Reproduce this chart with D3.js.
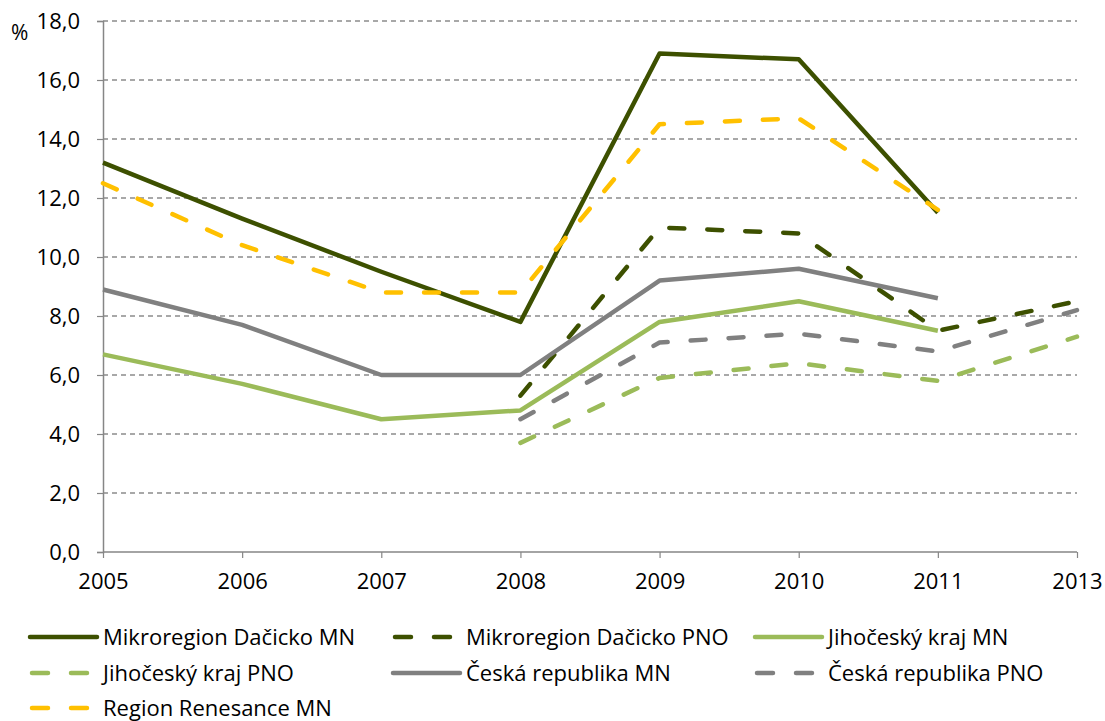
<!DOCTYPE html>
<html>
<head>
<meta charset="utf-8">
<script src="https://cdn.jsdelivr.net/npm/d3@7"></script>
<style>
  html, body { margin: 0; padding: 0; background: #fff; }
  text { font-family: "Open Sans", Lato, sans-serif; fill: #000; }
</style>
</head>
<body>
<svg id="chart" width="1105" height="721"></svg>
<script>
const years = ["2005", "2006", "2007", "2008", "2009", "2010", "2011", "2013"];
const yTicks = [0, 2, 4, 6, 8, 10, 12, 14, 16, 18];

const dacickoMN   = [13.2, 11.3, 9.5, 7.8, 16.9, 16.7, 11.5, null];
const dacickoPNO  = [null, null, null, 5.3, 11.0, 10.8, 7.5, 8.5];
const jihoMN      = [6.7, 5.7, 4.5, 4.8, 7.8, 8.5, 7.5, null];
const jihoPNO     = [null, null, null, 3.7, 5.9, 6.4, 5.8, 7.3];
const crMN        = [8.9, 7.7, 6.0, 6.0, 9.2, 9.6, 8.6, null];
const crPNO       = [null, null, null, 4.5, 7.1, 7.4, 6.8, 8.2];
const renesanceMN = [12.5, 10.4, 8.8, 8.8, 14.5, 14.7, 11.6, null];

const seriesNames = ["Mikroregion Dačicko MN", "Mikroregion Dačicko PNO", "Jihočeský kraj MN",
  "Jihočeský kraj PNO", "Česká republika MN", "Česká republika PNO", "Region Renesance MN"];
const seriesValues = [dacickoMN, dacickoPNO, jihoMN, jihoPNO, crMN, crPNO, renesanceMN];
const seriesColors = ["#3d5000", "#3d5000", "#9bbb59", "#9bbb59", "#808080", "#808080", "#ffc000"];
const seriesDashed = [false, true, false, true, false, true, true];

const svg = d3.select("#chart");
const plotLeft = 103, plotRight = 1077, plotTop = 21, plotBottom = 552;
const fontSize = 22;

const x = d3.scalePoint().domain(years).range([plotLeft, plotRight]);
const y = d3.scaleLinear().domain([0, 18]).range([plotBottom, plotTop]);
const fmt = v => d3.format(".1f")(v).replace(".", ",");

// gridlines
svg.append("g").selectAll("line").data(yTicks.filter(d => d > 0)).join("line")
  .attr("x1", plotLeft).attr("x2", plotRight)
  .attr("y1", d => y(d)).attr("y2", d => y(d))
  .attr("stroke", "#8c8c8c").attr("stroke-width", 1.3)
  .attr("stroke-dasharray", "5,4");

// y axis
const yAxis = svg.append("g").attr("transform", `translate(${plotLeft},0)`)
  .call(d3.axisLeft(y).tickValues(yTicks).tickFormat(fmt).tickSize(6).tickPadding(17));
yAxis.select(".domain").attr("stroke", "#868686").attr("stroke-width", 1.5);
yAxis.selectAll(".tick line").attr("stroke", "#868686").attr("stroke-width", 1.2);
yAxis.selectAll(".tick text").attr("font-size", fontSize).attr("font-family", null).attr("dy", "0.35em");

// x axis
const xAxis = svg.append("g").attr("transform", `translate(0,${plotBottom})`)
  .call(d3.axisBottom(x).tickSize(6).tickPadding(15));
xAxis.select(".domain").attr("stroke", "#868686").attr("stroke-width", 1.5)
  .attr("d", `M${plotLeft},0H${plotRight}`);
xAxis.selectAll(".tick line").attr("stroke", "#868686").attr("stroke-width", 1.2);
xAxis.selectAll(".tick text").attr("font-size", fontSize).attr("font-family", null);

svg.append("text").attr("x", 11).attr("y", 40).attr("font-size", fontSize - 1).text("%");

// lines
const line = d3.line()
  .defined(d => d.v !== null)
  .x(d => x(d.year)).y(d => y(d.v));

seriesValues.forEach((vals, i) => {
  const data = vals.map((v, j) => ({ year: years[j], v }));
  svg.append("path").datum(data)
    .attr("d", line)
    .attr("fill", "none")
    .attr("stroke", seriesColors[i])
    .attr("stroke-width", 4.5)
    .attr("stroke-linejoin", "round")
    .attr("stroke-linecap", seriesDashed[i] ? "round" : "butt")
    .attr("stroke-dasharray", seriesDashed[i] ? "15,23" : null);
});

// legend
const colX = [30, 393, 755];
const rowY = [637, 673, 708];
const leg = svg.append("g");
seriesNames.forEach((name, i) => {
  const cx = colX[i % 3], cy = rowY[Math.floor(i / 3)];
  leg.append("line")
    .attr("x1", cx + (seriesDashed[i] ? 2 : 0)).attr("x2", cx + 67)
    .attr("y1", cy).attr("y2", cy)
    .attr("stroke", seriesColors[i]).attr("stroke-width", 4.5)
    .attr("stroke-linecap", "round")
    .attr("stroke-dasharray", seriesDashed[i] ? "16,23" : null);
  leg.append("text").attr("x", cx + 73).attr("y", cy + 8)
    .attr("font-size", fontSize).text(name);
});
</script>
</body>
</html>
